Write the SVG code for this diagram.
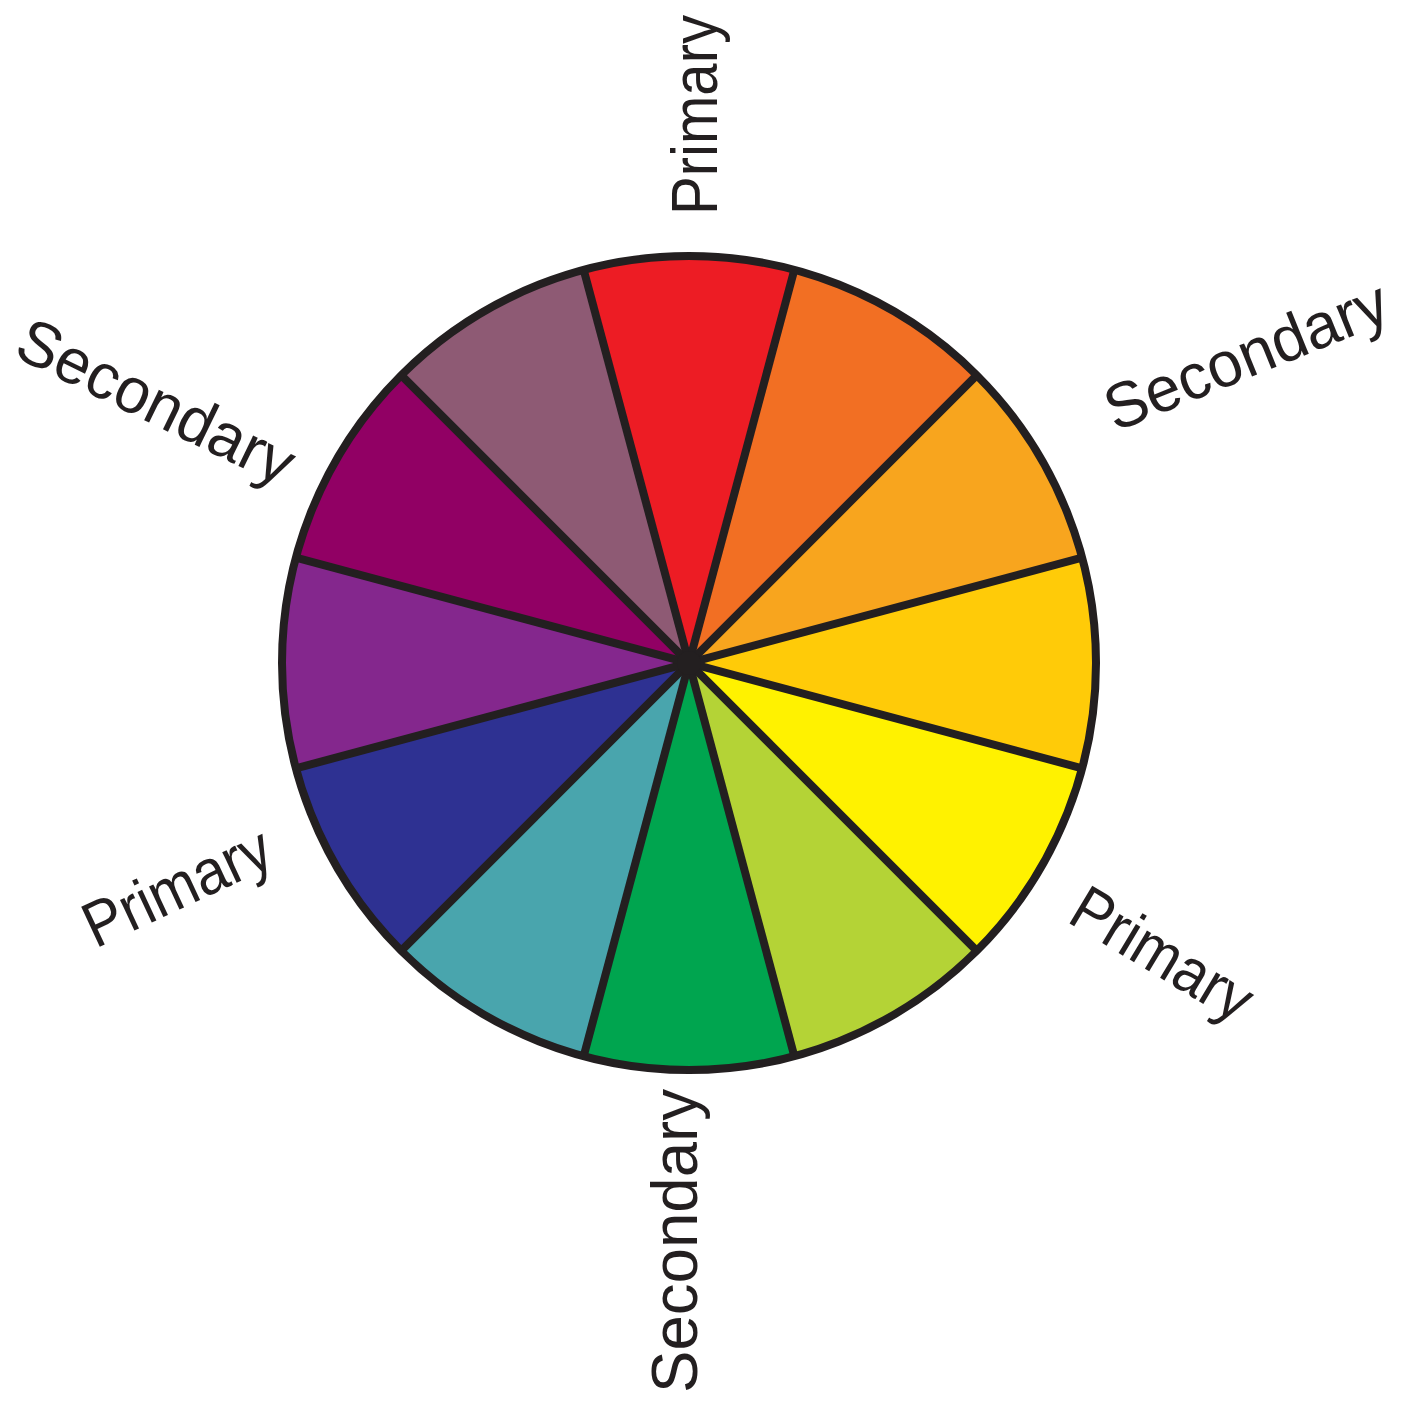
<svg xmlns="http://www.w3.org/2000/svg" width="1414" height="1407" viewBox="0 0 1414 1407">
<style>
.lbl{font-family:"Liberation Sans",Arial,sans-serif;font-size:64px;fill:#231F20;text-anchor:middle}
.seg{stroke:none}
.ln{stroke:#231F20;stroke-width:8;fill:none}
</style>
<rect width="1414" height="1407" fill="#FFFFFF"/>
<g id="wheel">
<g id="seg-red"><path class="seg" fill="#ED1C24" d="M689 663 L583.92 270.83 A406 406 0 0 1 794.08 270.83 Z"/></g>
<g id="seg-orange"><path class="seg" fill="#F26F23" d="M689 663 L794.08 270.83 A406 406 0 0 1 976.09 375.91 Z"/></g>
<g id="seg-yellow-orange"><path class="seg" fill="#F8A51E" d="M689 663 L976.09 375.91 A406 406 0 0 1 1081.17 557.92 Z"/></g>
<g id="seg-gold"><path class="seg" fill="#FFCB08" d="M689 663 L1081.17 557.92 A406 406 0 0 1 1081.17 768.08 Z"/></g>
<g id="seg-yellow"><path class="seg" fill="#FFF200" d="M689 663 L1081.17 768.08 A406 406 0 0 1 976.09 950.09 Z"/></g>
<g id="seg-yellow-green"><path class="seg" fill="#B4D336" d="M689 663 L976.09 950.09 A406 406 0 0 1 794.08 1055.17 Z"/></g>
<g id="seg-green"><path class="seg" fill="#00A54F" d="M689 663 L794.08 1055.17 A406 406 0 0 1 583.92 1055.17 Z"/></g>
<g id="seg-teal"><path class="seg" fill="#49A5AD" d="M689 663 L583.92 1055.17 A406 406 0 0 1 401.91 950.09 Z"/></g>
<g id="seg-blue"><path class="seg" fill="#2E3192" d="M689 663 L401.91 950.09 A406 406 0 0 1 296.83 768.08 Z"/></g>
<g id="seg-purple"><path class="seg" fill="#84278D" d="M689 663 L296.83 768.08 A406 406 0 0 1 296.83 557.92 Z"/></g>
<g id="seg-magenta"><path class="seg" fill="#910064" d="M689 663 L296.83 557.92 A406 406 0 0 1 401.91 375.91 Z"/></g>
<g id="seg-mauve"><path class="seg" fill="#8E5A74" d="M689 663 L401.91 375.91 A406 406 0 0 1 583.92 270.83 Z"/></g>
</g>
<g id="connectors">
<line class="ln" x1="583.92" y1="270.83" x2="794.08" y2="1055.17"/>
<line class="ln" x1="794.08" y1="270.83" x2="583.92" y2="1055.17"/>
<line class="ln" x1="976.09" y1="375.91" x2="401.91" y2="950.09"/>
<line class="ln" x1="1081.17" y1="557.92" x2="296.83" y2="768.08"/>
<line class="ln" x1="1081.17" y1="768.08" x2="296.83" y2="557.92"/>
<line class="ln" x1="976.09" y1="950.09" x2="401.91" y2="375.91"/>
<circle cx="689" cy="663" r="12" fill="#231F20"/>
<circle class="ln" cx="689" cy="663" r="407"/>
</g>
<g id="label-top"><text class="lbl" transform="translate(717,115) rotate(-90)" x="0" y="0" textLength="200" lengthAdjust="spacingAndGlyphs">Primary</text></g>
<g id="label-top-right"><text class="lbl" transform="translate(1248,360) rotate(-22)" x="0" y="17" textLength="300" lengthAdjust="spacingAndGlyphs">Secondary</text></g>
<g id="label-bottom-right"><text class="lbl" transform="translate(1160,958) rotate(31)" x="0" y="17" textLength="200" lengthAdjust="spacingAndGlyphs">Primary</text></g>
<g id="label-bottom"><text class="lbl" transform="translate(697,1241) rotate(-90)" x="0" y="0" textLength="304" lengthAdjust="spacingAndGlyphs">Secondary</text></g>
<g id="label-bottom-left"><text class="lbl" transform="translate(179,891) rotate(-25)" x="0" y="17" textLength="200" lengthAdjust="spacingAndGlyphs">Primary</text></g>
<g id="label-top-left"><text class="lbl" transform="translate(154,406) rotate(26)" x="0" y="17" textLength="300" lengthAdjust="spacingAndGlyphs">Secondary</text></g>
</svg>
